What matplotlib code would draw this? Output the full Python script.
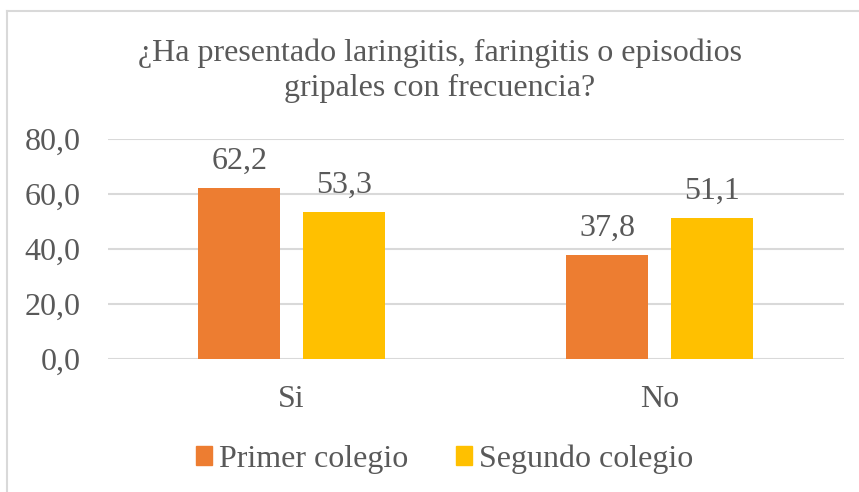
import matplotlib
matplotlib.use("Agg")
import matplotlib.pyplot as plt
from matplotlib.lines import Line2D
from matplotlib.patches import Patch

categories = ["Si", "No"]
series_names = ["Primer colegio", "Segundo colegio"]
primer = [62.2, 37.8]
segundo = [53.3, 51.1]
yticks = [0, 20, 40, 60, 80]
title = "¿Ha presentado laringitis, faringitis o episodios\ngripales con frecuencia?"

colors = ["#ED7D31", "#FFC000"]
text_color = "#595959"
font = ["Liberation Serif", "DejaVu Serif"]
fs = 23

W, H = 859, 492
fig = plt.figure(figsize=(W / 100, H / 100), dpi=100)
fig.patch.set_facecolor("white")

# cropped chart border (left and top visible)
fig.add_artist(Line2D([6.5 / W, 6.5 / W], [0, 1 - 10.5 / H], transform=fig.transFigure,
                      color="#D9D9D9", lw=1.5))
fig.add_artist(Line2D([6.5 / W, 1], [1 - 10.5 / H, 1 - 10.5 / H], transform=fig.transFigure,
                      color="#D9D9D9", lw=1.5))

left, right = 107.5 / W, 843.5 / W
bottom, top = 1 - 359 / H, 1 - 139 / H
ax = fig.add_axes([left, bottom, right - left, top - bottom])

x = list(range(len(categories)))
width = 0.224
offset = 0.142
b1 = ax.bar([i - offset for i in x], primer, width, color=colors[0], label=series_names[0], zorder=3)
b2 = ax.bar([i + offset for i in x], segundo, width, color=colors[1], label=series_names[1], zorder=3)

for bars, vals in ((b1, primer), (b2, segundo)):
    for rect, v in zip(bars, vals):
        ax.text(rect.get_x() + rect.get_width() / 2, v + 4.5, f"{v:.1f}".replace(".", ","),
                ha="center", va="bottom", fontsize=fs, color=text_color, family=font)

ax.set_xlim(-0.5, 1.5)
ax.set_ylim(0, 80)
ax.set_yticks(yticks)
ax.set_yticklabels([f"{v:.1f}".replace(".", ",") for v in yticks], fontsize=fs,
                   color=text_color, family=font)
ax.set_xticks(x)
ax.set_xticklabels(categories, fontsize=fs, color=text_color, family=font)
ax.tick_params(axis="both", length=0)
ax.tick_params(axis="y", pad=19.5)
ax.tick_params(axis="x", pad=19)
ax.yaxis.grid(True, color="#D9D9D9", lw=1.5, zorder=0)
for s in ax.spines.values():
    s.set_visible(False)

fig.text(440 / W, 1 - 71 / H, title, ha="center", va="center", fontsize=fs,
         color=text_color, family=font, linespacing=1.25)

handles = [Patch(color=colors[0], label=series_names[0]),
           Patch(color=colors[1], label=series_names[1])]
fig.legend(handles=handles, loc="center", bbox_to_anchor=(445 / W, 1 - 459 / H), ncol=2,
           frameon=False, prop={"family": font, "size": fs}, labelcolor=text_color,
           handlelength=0.5, handleheight=0.5, handletextpad=0.22, columnspacing=1.5)

fig.savefig("out.png", dpi=100, facecolor="white")
